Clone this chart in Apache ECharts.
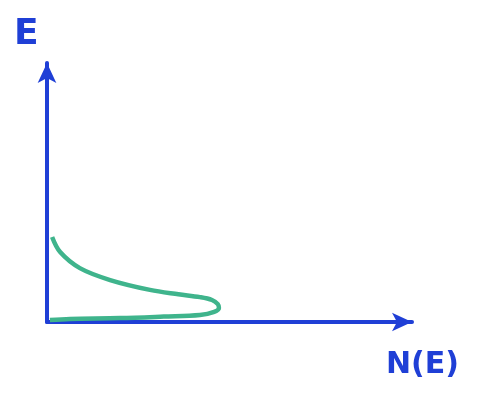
<!DOCTYPE html>
<html>
<head>
<meta charset="utf-8">
<script src="https://cdn.jsdelivr.net/npm/echarts@6/dist/echarts.min.js"></script>
<style>
  html, body { margin: 0; padding: 0; background: #fff; }
  #main { width: 487px; height: 393px; }
</style>
</head>
<body>
<div id="main"></div>
<script>
// curve: N(E) on x, E on y
var curveN = [1.4, 3.6, 9.0, 17.3, 28.2, 36.0, 41.9, 45.2, 46.8, 47.1, 45.8, 41.9, 32.0, 20.0, 6.3, 0.8];
var curveE = [32.8, 27.0, 20.8, 16.2, 12.4, 10.7, 9.6, 8.5, 6.9, 5.4, 3.9, 2.7, 2.1, 1.5, 1.2, 0.8];
var xName = 'N(E)';
var yName = 'E';

var blue = '#1f3fd6';
var green = '#3fb48c';

var points = curveN.map(function (n, i) { return [n, curveE[i]]; });

var chart = echarts.init(document.getElementById('main'));
chart.setOption({
  animation: false,
  grid: { left: 47, right: 75, top: 63, bottom: 71 },
  xAxis: {
    type: 'value', min: 0, max: 100,
    axisLine: { lineStyle: { color: blue, width: 4 }, symbol: ['none', 'arrow'], symbolSize: [14, 20] },
    axisTick: { show: false },
    axisLabel: { show: false },
    splitLine: { show: false }
  },
  yAxis: {
    type: 'value', min: 0, max: 100,
    axisLine: { lineStyle: { color: blue, width: 4 }, symbol: ['none', 'arrow'], symbolSize: [14, 20] },
    axisTick: { show: false },
    axisLabel: { show: false },
    splitLine: { show: false }
  },
  graphic: [
    { type: 'text', left: 14, top: 17, style: { text: yName, fill: blue, font: 'bold 36px "DejaVu Sans"' } },
    { type: 'text', left: 386, top: 350, style: { text: xName, fill: blue, font: 'bold 30px "DejaVu Sans"' } }
  ],
  series: [{
    type: 'line',
    data: points,
    smooth: 0.35,
    showSymbol: false,
    lineStyle: { color: green, width: 4.5 }
  }]
});
</script>
</body>
</html>
